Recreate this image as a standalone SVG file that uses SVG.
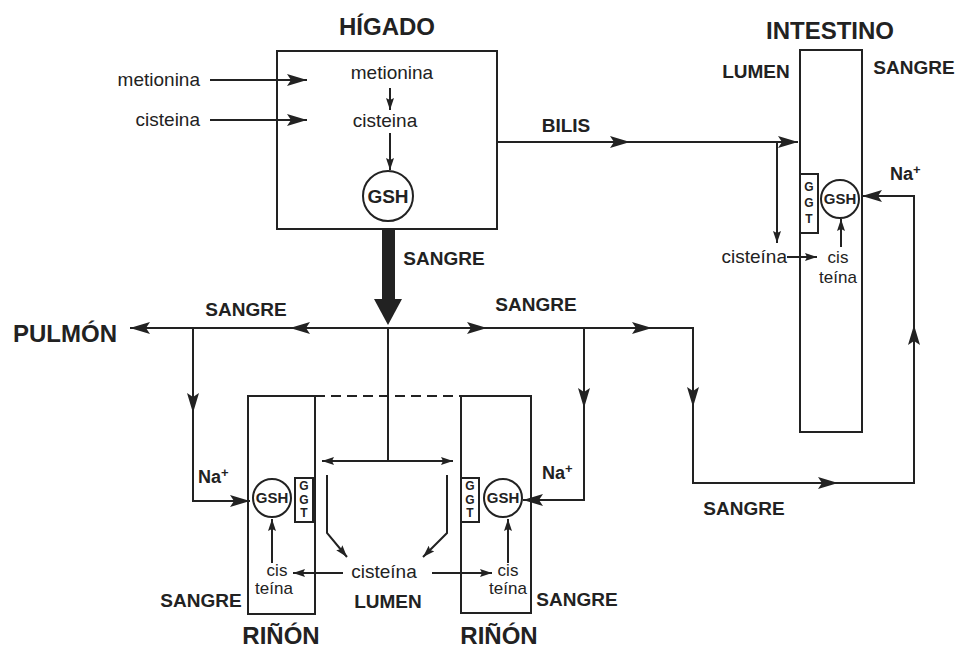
<svg xmlns="http://www.w3.org/2000/svg" width="958" height="651" viewBox="0 0 958 651">
<style>
.ln{fill:none;stroke:#222;stroke-width:2}
.bx{fill:none;stroke:#222;stroke-width:2}
.big{marker-end:url(#ah)}
.sm{marker-end:url(#as)}
text{font-family:"Liberation Sans",Arial,sans-serif;fill:#222}
.t{font-size:24px;font-weight:bold;text-anchor:middle}
.l{font-size:19px;font-weight:bold;text-anchor:middle}
.r{font-size:19px}
.k{font-size:17px;text-anchor:middle}
.c{text-anchor:middle}
.g{font-size:12px;font-weight:bold;text-anchor:middle}
</style>
<defs>
<marker id="ah" viewBox="0 0 20 12" refX="20" refY="6" markerWidth="20" markerHeight="12" markerUnits="userSpaceOnUse" orient="auto">
<path d="M0,0 L20,6 L0,12 L4,6 z" fill="#222"/>
</marker>
<marker id="as" viewBox="0 0 12 8" refX="12" refY="4" markerWidth="12" markerHeight="8" markerUnits="userSpaceOnUse" orient="auto">
<path d="M0,0 L12,4 L0,8 L2,4 z" fill="#222"/>
</marker>
<marker id="ass" viewBox="0 0 12 8" refX="0" refY="4" markerWidth="12" markerHeight="8" markerUnits="userSpaceOnUse" orient="auto">
<path d="M12,0 L0,4 L12,8 L10,4 z" fill="#222"/>
</marker>
</defs>

<g id="higado">
<rect class="bx" x="277" y="51" width="220" height="178"/>
<text class="t" x="387" y="35">HÍGADO</text>
<text class="r" x="200" y="86" text-anchor="end">metionina</text>
<text class="r" x="200" y="126" text-anchor="end">cisteina</text>
<text class="r c" x="392" y="79">metionina</text>
<text class="r c" x="385" y="127">cisteina</text>
<circle class="bx" cx="388" cy="196" r="25"/>
<text x="388" y="203" font-size="19" font-weight="bold" text-anchor="middle">GSH</text>
</g>

<g id="intestino">
<rect class="bx" x="800" y="50" width="62" height="382"/>
<text class="t" x="830" y="39">INTESTINO</text>
<text class="l" x="756" y="78">LUMEN</text>
<text class="l" x="914" y="74">SANGRE</text>
<rect class="bx" x="800" y="174" width="18" height="59"/>
<text class="g" x="809" y="191" font-size="13">G</text>
<text class="g" x="809" y="207" font-size="13">G</text>
<text class="g" x="809" y="223" font-size="13">T</text>
<circle class="bx" cx="840" cy="199" r="19"/>
<text x="840" y="204" font-size="15" font-weight="bold" text-anchor="middle">GSH</text>
<text class="r" x="787" y="263" text-anchor="end">cisteína</text>
<text class="k" x="838" y="263">cis</text>
<text class="k" x="838" y="283">teína</text>
<text x="890" y="180" font-size="18" font-weight="bold">Na<tspan font-size="13" dy="-6">+</tspan></text>
</g>

<g id="rinon-izq">
<rect class="bx" x="248" y="396" width="67" height="218"/>
<text class="t" x="281" y="644">RIÑÓN</text>
<text class="l" x="201" y="607">SANGRE</text>
<rect class="bx" x="295" y="478" width="18" height="44"/>
<text class="g" x="304" y="490">G</text>
<text class="g" x="304" y="503.5">G</text>
<text class="g" x="304" y="517">T</text>
<circle class="bx" cx="272" cy="498" r="19"/>
<text x="272" y="503" font-size="15" font-weight="bold" text-anchor="middle">GSH</text>
<text class="k" x="277" y="576">cis</text>
<text class="k" x="274" y="594">teína</text>
<text x="198" y="483" font-size="18" font-weight="bold">Na<tspan font-size="13" dy="-6">+</tspan></text>
</g>

<g id="rinon-der">
<rect class="bx" x="461" y="396" width="70" height="217"/>
<text class="t" x="499" y="644">RIÑÓN</text>
<text class="l" x="577" y="606">SANGRE</text>
<rect class="bx" x="461" y="478" width="18" height="44"/>
<text class="g" x="470" y="490">G</text>
<text class="g" x="470" y="503.5">G</text>
<text class="g" x="470" y="517">T</text>
<circle class="bx" cx="503" cy="498" r="19"/>
<text x="503" y="503" font-size="15" font-weight="bold" text-anchor="middle">GSH</text>
<text class="k" x="508" y="576">cis</text>
<text class="k" x="508" y="594">teína</text>
<text x="542" y="479" font-size="18" font-weight="bold">Na<tspan font-size="13" dy="-6">+</tspan></text>
</g>

<g id="lumen-rinon">
<text class="r c" x="384" y="578">cisteína</text>
<text class="l" x="388" y="608">LUMEN</text>
</g>

<g id="pulmon">
<text class="t" x="65" y="342">PULMÓN</text>
</g>

<g id="etiquetas">
<text class="l" x="566" y="132">BILIS</text>
<text class="l" x="444" y="265">SANGRE</text>
<text class="l" x="246" y="316">SANGRE</text>
<text class="l" x="536" y="311">SANGRE</text>
<text class="l" x="744" y="515">SANGRE</text>
</g>

<g id="conectores">
<path class="ln big" d="M210,80 L307,80"/>
<path class="ln big" d="M210,120 L307,120"/>
<path class="ln sm" d="M390,88 L390,110"/>
<path class="ln sm" d="M390,133 L390,170"/>
<path class="ln big" d="M497,142 L630,142"/>
<path class="ln big" d="M630,142 L798,142"/>
<path class="ln sm" d="M777,142 L777,243"/>
<path class="ln sm" d="M787,257 L817,257"/>
<path class="ln sm" d="M841,247 L841,219"/>
<rect x="382" y="229" width="13" height="73" fill="#222"/>
<polygon points="374,299 402,299 388,325" fill="#222"/>
<path class="ln big" d="M388,328 L290,328"/>
<path class="ln big" d="M290,328 L130,328"/>
<path class="ln big" d="M388,328 L487,328"/>
<path class="ln big" d="M487,328 L652,328"/>
<path class="ln big" d="M652,328 L693,328 L693,407"/>
<path class="ln big" d="M693,407 L693,483 L838,483"/>
<path class="ln big" d="M838,483 L914,483 L914,325"/>
<path class="ln big" d="M914,325 L914,196 L862,196"/>
<path class="ln big" d="M193,328 L193,413"/>
<path class="ln big" d="M193,413 L193,501 L250,501"/>
<path class="ln big" d="M584,328 L584,408"/>
<path class="ln big" d="M584,408 L584,500 L523,500"/>
<path class="ln" d="M315,396 L461,396" stroke-dasharray="10,6"/>
<path class="ln" d="M388,328 L388,461"/>
<path class="ln" d="M322,461 L453,461" marker-start="url(#ass)" marker-end="url(#as)"/>
<path class="ln sm" d="M327,475 L327,533 L347,557"/>
<path class="ln sm" d="M447,475 L447,533 L423,557"/>
<path class="ln sm" d="M343,573 L293,573"/>
<path class="ln sm" d="M432,573 L492,573"/>
<path class="ln sm" d="M272,563 L272,519"/>
<path class="ln sm" d="M508,563 L508,519"/>
</g>
</svg>
